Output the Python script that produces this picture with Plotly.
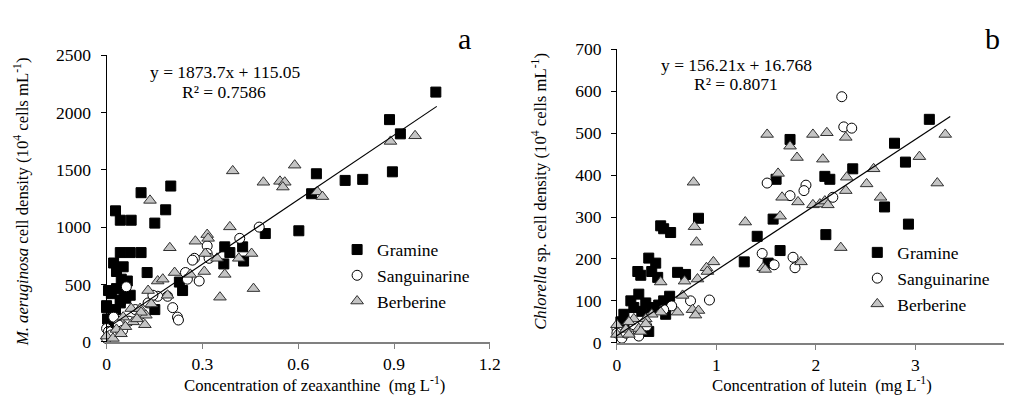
import plotly.graph_objects as go

# ---------------- Panel a : M. aeruginosa vs zeaxanthine ----------------
a_gramine_x = [1.031, 0.886, 0.920, 0.895, 0.802, 0.747, 0.657, 0.642, 0.497, 0.602,
               0.201, 0.108, 0.185, 0.028, 0.043, 0.077, 0.151, 0.043, 0.074, 0.108,
               0.022, 0.052, 0.031, 0.127, 0.046, 0.065, 0.006, 0.031, 0.074, 0.043,
               0.000, 0.028, 0.043, 0.003, 0.151, 0.228, 0.238, 0.370, 0.386, 0.426,
               0.429, 0.367, 0.012, 0.028, 0.000, 0.015, 0.055, 0.060, 0.020]
a_gramine_y = [2177, 1937, 1813, 1482, 1416, 1407, 1465, 1291, 944, 968,
               1358, 1300, 1151, 1142, 1060, 1060, 1035, 778, 778, 778,
               687, 654, 613, 604, 546, 530, 447, 464, 406, 364,
               298, 281, 339, 199, 281, 521, 447, 828, 778, 828,
               704, 679, 116, 174, 315, 420, 410, 380, 250]

a_sang_x = [0.478, 0.417, 0.315, 0.315, 0.275, 0.269, 0.321, 0.247, 0.290, 0.253,
            0.207, 0.222, 0.225, 0.160, 0.191, 0.062, 0.022, 0.000, 0.006, 0.037,
            0.090, 0.108, 0.130, 0.145, 0.000, 0.015, 0.050, 0.070]
a_sang_y = [1000, 902, 836, 770, 728, 712, 728, 604, 530, 546,
            298, 215, 190, 397, 397, 480, 215, 116, 91, 149,
            281, 240, 339, 406, 30, 60, 100, 180]

a_berb_x = [0.395, 0.491, 0.589, 0.543, 0.558, 0.552, 0.660, 0.676, 0.889, 0.966,
            0.136, 0.386, 0.315, 0.318, 0.198, 0.278, 0.309, 0.346, 0.414, 0.454,
            0.370, 0.306, 0.262, 0.213, 0.160, 0.176, 0.460, 0.355, 0.130, 0.191,
            0.077, 0.105, 0.123, 0.108, 0.052, 0.083, 0.120, 0.031, 0.000, 0.059,
            0.020, 0.045, 0.095, 0.140]
a_berb_y = [1490, 1391, 1540, 1399, 1391, 1349, 1308, 1266, 1747, 1796,
            1233, 1002, 935, 902, 820, 877, 770, 728, 728, 770,
            588, 613, 588, 604, 530, 546, 464, 389, 447, 406,
            290, 290, 232, 257, 215, 174, 149, 108, 50, 132,
            30, 70, 200, 330]

a_fit_slope, a_fit_intercept = 1873.7, 115.05
a_fit_x = [0.0, 1.034]

# ---------------- Panel b : Chlorella sp. vs lutein ----------------
b_gramine_x = [3.14, 2.79, 2.90, 1.74, 2.37, 2.09, 2.14, 1.60, 0.82, 1.57,
               2.69, 2.93, 1.41, 2.10, 1.64, 1.28, 1.52, 0.44, 0.47, 0.54,
               0.32, 0.39, 0.21, 0.24, 0.35, 0.41, 0.61, 0.69, 0.53, 0.22,
               0.14, 0.29, 0.17, 0.35, 0.07, 0.47, 0.49, 0.32, 0.04, 0.25,
               0.42, 0.10]
b_gramine_y = [533, 476, 431, 485, 415, 397, 390, 390, 297, 295,
               324, 283, 254, 258, 220, 193, 190, 279, 272, 263,
               202, 190, 170, 161, 170, 156, 168, 163, 111, 116,
               100, 95, 84, 84, 68, 100, 68, 27, 50, 75,
               90, 40]

b_sang_x = [2.26, 2.28, 2.36, 1.51, 1.90, 1.88, 1.74, 2.17, 1.46, 1.58,
            1.77, 1.79, 0.93, 0.74, 0.55, 0.47, 0.00, 0.00, 0.22, 0.12,
            0.17, 0.05, 0.09, 0.30]
b_sang_y = [587, 515, 512, 381, 376, 363, 351, 347, 213, 186,
            204, 179, 102, 100, 88, 79, 34, 23, 16, 27,
            43, 11, 23, 40]

b_berb_x = [3.30, 3.04, 3.22, 2.58, 2.51, 2.65, 2.31, 2.30, 1.51, 1.97,
            2.11, 2.30, 1.74, 1.81, 2.07, 1.62, 0.77, 1.66, 1.82, 1.97,
            2.04, 2.09, 2.12, 1.64, 1.29, 0.78, 0.80, 2.25, 0.97, 1.85,
            1.47, 1.49, 0.90, 0.91, 0.81, 0.68, 0.44, 0.66, 0.61, 0.76,
            0.82, 0.79, 0.44, 0.35, 0.29, 0.17, 0.12, 0.00, 0.22, 0.09,
            0.29, 0.12, 0.00, 0.24]
b_berb_y = [497, 444, 381, 415, 379, 347, 395, 363, 497, 497,
            501, 490, 469, 442, 438, 404, 383, 347, 336, 329,
            331, 338, 329, 302, 288, 277, 240, 227, 193, 193,
            179, 175, 179, 170, 152, 147, 145, 113, 73, 79,
            77, 66, 73, 68, 57, 57, 50, 43, 34, 32,
            45, 20, 20, 27]

b_fit_slope, b_fit_intercept = 156.21, 16.768
b_fit_x = [0.0, 3.35]

series_names = ["Gramine", "Sanguinarine", "Berberine"]
a_xticks = [0, 0.3, 0.6, 0.9, 1.2]
a_xticklabels = ["0", "0.3", "0.6", "0.9", "1.2"]
a_yticks = [0, 500, 1000, 1500, 2000, 2500]
b_xticks = [0, 1, 2, 3]
b_yticks = [0, 100, 200, 300, 400, 500, 600, 700]

# ---------------- figure ----------------
W, H = 1012, 397
FONT = "Liberation Serif, Times New Roman, serif"

def px(x):
    return x / W

def py(y):
    return 1 - y / H

sq = dict(symbol="square", size=10, color="black", line=dict(color="black", width=1))
ci = dict(symbol="circle", size=10, color="white", line=dict(color="black", width=1))
tr = dict(symbol="triangle-up", size=11, color="#c4c4c4", line=dict(color="#303030", width=1))

fig = go.Figure()

def add_panel(xa, ya, legend, gx, gy, sx, sy, bx, by, fx, slope, intercept):
    fig.add_trace(go.Scatter(x=gx, y=gy, mode="markers", marker=sq, name=series_names[0],
                             xaxis=xa, yaxis=ya, legend=legend, cliponaxis=False))
    fig.add_trace(go.Scatter(x=sx, y=sy, mode="markers", marker=ci, name=series_names[1],
                             xaxis=xa, yaxis=ya, legend=legend, cliponaxis=False))
    fig.add_trace(go.Scatter(x=bx, y=by, mode="markers", marker=tr, name=series_names[2],
                             xaxis=xa, yaxis=ya, legend=legend, cliponaxis=False))
    fig.add_trace(go.Scatter(x=fx, y=[slope * v + intercept for v in fx], mode="lines",
                             line=dict(color="black", width=1.2), showlegend=False,
                             xaxis=xa, yaxis=ya, hoverinfo="skip"))

add_panel("x", "y", "legend", a_gramine_x, a_gramine_y, a_sang_x, a_sang_y,
          a_berb_x, a_berb_y, a_fit_x, a_fit_slope, a_fit_intercept)
add_panel("x2", "y2", "legend2", b_gramine_x, b_gramine_y, b_sang_x, b_sang_y,
          b_berb_x, b_berb_y, b_fit_x, b_fit_slope, b_fit_intercept)

tickfont = dict(family=FONT, size=17.5, color="black")
xax_common = dict(showgrid=False, zeroline=False, showline=True, linecolor="#808080", linewidth=2,
                  ticks="outside", ticklen=5, tickcolor="#808080", tickwidth=1,
                  tickfont=tickfont, ticklabelstandoff=0)
yax_common = dict(showgrid=False, zeroline=False, showline=True, linecolor="black", linewidth=1,
                  ticks="outside", ticklen=5, tickcolor="black", tickwidth=1,
                  tickfont=tickfont, ticklabelstandoff=6)

legfont = dict(family=FONT, size=17.5, color="black")
fig.update_layout(
    width=W, height=H,
    margin=dict(l=0, r=0, t=0, b=0),
    paper_bgcolor="white", plot_bgcolor="white",
    font=dict(family=FONT, color="black"),
    xaxis=dict(domain=[px(96), px(485)], range=[0, 1.2], tickvals=a_xticks,
               ticktext=a_xticklabels, anchor="y", **xax_common),
    yaxis=dict(domain=[py(341), py(39)], range=[0, 2500], tickvals=a_yticks,
               anchor="x", **yax_common),
    xaxis2=dict(domain=[px(614), 1.0], range=[0, (W - 614) / 101.0], tickvals=b_xticks,
                anchor="y2", **xax_common),
    yaxis2=dict(domain=[py(342), py(33)], range=[0, 700], tickvals=b_yticks,
                anchor="x2", **yax_common),
    legend=dict(x=px(330), y=py(225), xanchor="left", yanchor="top", font=legfont,
                bgcolor="rgba(0,0,0,0)", tracegroupgap=0, itemwidth=30),
    legend2=dict(x=px(858), y=py(228), xanchor="left", yanchor="top", font=legfont,
                 bgcolor="rgba(0,0,0,0)", tracegroupgap=0, itemwidth=30),
    showlegend=True,
)

ann = []
def note(text, x, y, size=16, angle=0):
    ann.append(dict(text=text, x=px(x), y=py(y), xref="paper", yref="paper",
                    showarrow=False, textangle=angle, xanchor="center", yanchor="middle",
                    font=dict(family=FONT, size=size, color="black")))

note("<i>M. aeruginosa</i> cell density (10<sup>4</sup> cells mL<sup>-1</sup>)", 9, 193, 16.7, -90)
note("Concentration of zeaxanthine \u00a0(mg L<sup>-1</sup>)", 307, 386, 16.7)
note("<i>Chlorella</i> sp. cell density (10<sup>4</sup> cells mL<sup>-1</sup>)", 536, 183, 16.7, -90)
note("Concentration of lutein \u00a0(mg L<sup>-1</sup>)", 822, 386, 16.7)
note("y = 1873.7x + 115.05", 217, 57, 17.5)
note("R² = 0.7586", 215, 78, 17.5)
note("y = 156.21x + 16.768", 735, 50, 17.5)
note("R² = 0.8071", 735, 70, 17.5)
note("a", 459, 22, 30)
note("b", 995, 22, 30)
fig.update_layout(annotations=ann)

fig.write_html("out.html")
